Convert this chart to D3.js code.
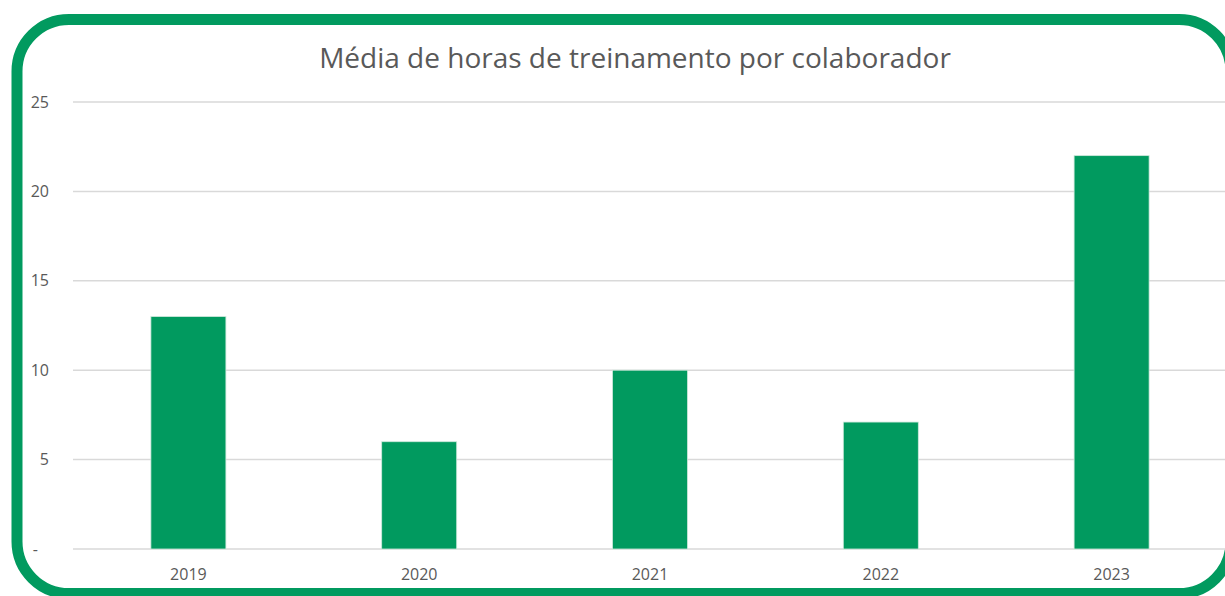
<!DOCTYPE html>
<html>
<head>
<meta charset="utf-8">
<script src="https://cdn.jsdelivr.net/npm/d3@7"></script>
<style>
  html, body { margin: 0; padding: 0; background: #fff; overflow: hidden; }
  svg { display: block; }
</style>
</head>
<body>
<div id="chart"></div>
<script>
// Data
const years = ["2019", "2020", "2021", "2022", "2023"];
const hours = [13, 6, 10, 7.1, 22];
const yTicks = [0, 5, 10, 15, 20, 25];
const title = "Média de horas de treinamento por colaborador";

// Size
const width = 1225, height = 596,
      margin = { top: 102, left: 73, bottom: 47, right: -2 },
      innerWidth = width - margin.left - margin.right,
      innerHeight = height - margin.top - margin.bottom;

const green = "#019a5f",
      fontFamily = "'Open Sans', 'Noto Sans', sans-serif";

const svg = d3.select("#chart").append("svg")
    .attr("width", width)
    .attr("height", height);

// Frame
svg.append("rect")
    .attr("x", 17)
    .attr("y", 19.5)
    .attr("width", 1214)
    .attr("height", 574)
    .attr("rx", 52)
    .attr("ry", 52)
    .style("fill", "#fff")
    .style("stroke", green)
    .style("stroke-width", 11);

// Title
svg.append("text")
    .attr("x", 635)
    .attr("y", 68)
    .attr("text-anchor", "middle")
    .style("font-family", fontFamily)
    .style("font-size", "28px")
    .style("fill", "#595959")
    .text(title);

const g = svg.append("g")
    .attr("transform", "translate(" + margin.left + "," + margin.top + ")");

// Scales
const xScale = d3.scaleBand()
    .domain(years)
    .range([0, innerWidth])
    .paddingInner(0.675)
    .paddingOuter(0.3375);

const yScale = d3.scaleLinear()
    .domain([0, 25])
    .range([innerHeight, 0]);

// Gridlines
g.append("g").attr("class", "grid")
  .selectAll("line")
    .data(yTicks)
  .enter().append("line")
    .attr("x1", 0)
    .attr("x2", innerWidth)
    .attr("y1", d => yScale(d))
    .attr("y2", d => yScale(d))
    .style("stroke", "#d9d9d9")
    .style("stroke-width", 1.5);

// Bars
g.append("g").attr("class", "bars")
  .selectAll("rect")
    .data(hours)
  .enter().append("rect")
    .attr("x", (d, i) => xScale(years[i]))
    .attr("y", d => yScale(d))
    .attr("width", xScale.bandwidth())
    .attr("height", d => innerHeight - yScale(d))
    .style("fill", green)
    .style("stroke", "#cfe9dc")
    .style("stroke-width", 0.8);

// Y axis
const yAxis = d3.axisLeft(yScale)
    .tickValues(yTicks)
    .tickSize(0)
    .tickPadding(24)
    .tickFormat(d => d === 0 ? "-" : d);

const gY = g.append("g").attr("class", "yAxis")
    .call(yAxis)
    .attr("font-family", fontFamily)
    .attr("font-size", 16);
gY.select(".domain").remove();
gY.selectAll("text")
    .attr("fill", "#595959")
    .attr("dx", d => d === 0 ? -11 : 0);

// X axis
const xAxis = d3.axisBottom(xScale)
    .tickSize(0)
    .tickPadding(20);

const gX = g.append("g").attr("class", "xAxis")
    .attr("transform", "translate(0," + innerHeight + ")")
    .call(xAxis)
    .attr("font-family", fontFamily)
    .attr("font-size", 16);
gX.select(".domain").remove();
gX.selectAll("text")
    .attr("fill", "#595959");
</script>
</body>
</html>
